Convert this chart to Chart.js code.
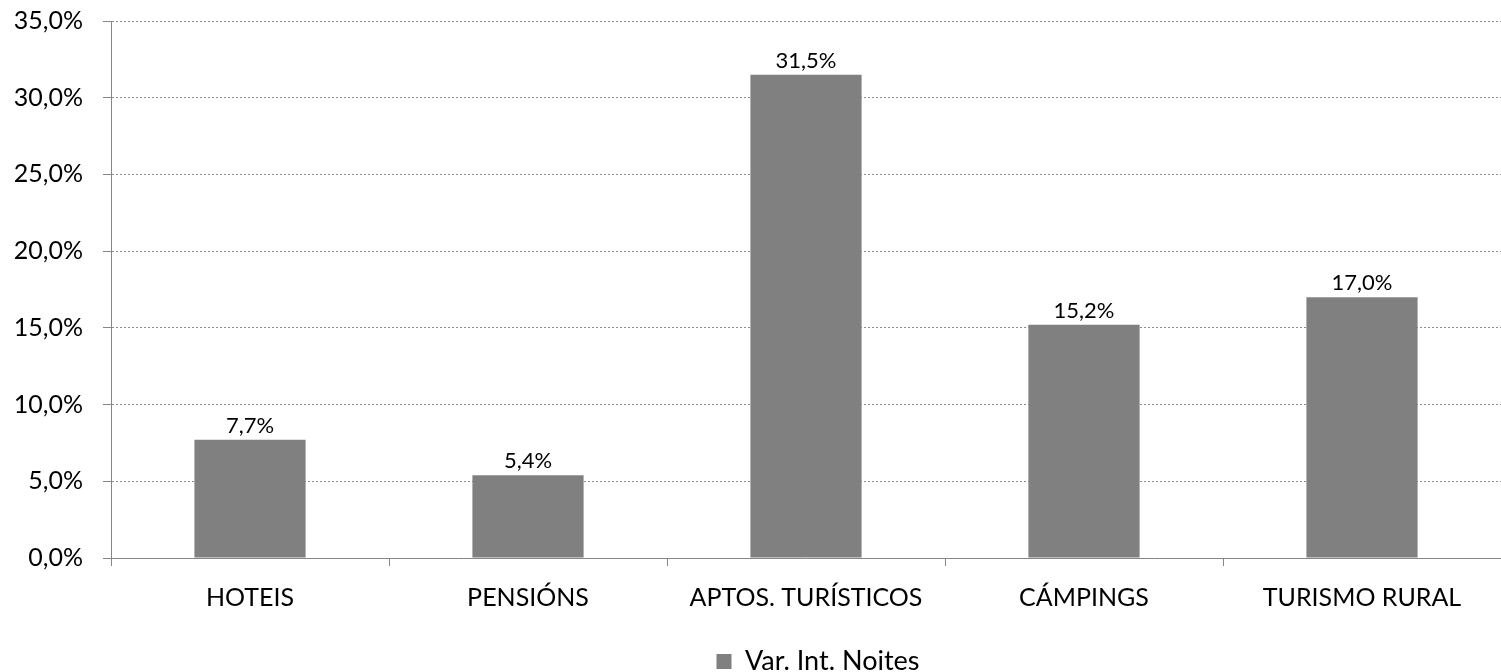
<!DOCTYPE html>
<html>
<head>
<meta charset="utf-8">
<script src="https://cdn.jsdelivr.net/npm/chart.js@4/dist/chart.umd.min.js"></script>
<style>
  html, body { margin: 0; padding: 0; background: #fff; }
  #wrap { width: 1501px; height: 672px; }
</style>
</head>
<body>
<div id="wrap"><canvas id="nightsChart"></canvas></div>
<script>
/* Var. Int. Noites por tipo de aloxamento */
const categories = ['HOTEIS', 'PENSIÓNS', 'APTOS. TURÍSTICOS', 'CÁMPINGS', 'TURISMO RURAL'];
const seriesName = 'Var. Int. Noites';
const values = [7.7, 5.4, 31.5, 15.2, 17.0];
const yTicks = [0, 5, 10, 15, 20, 25, 30, 35];

const fmtPct = v => v.toFixed(1).replace('.', ',') + '%';

Chart.defaults.font.family = "'Lato', 'Open Sans', sans-serif";
Chart.defaults.color = '#000000';

/* value labels above each bar */
const barLabels = {
    id: 'barLabels',
    afterDatasetsDraw(chart) {
        const ctx = chart.ctx;
        const meta = chart.getDatasetMeta(0);
        ctx.save();
        ctx.font = "22px 'Lato', 'Open Sans', sans-serif";
        ctx.fillStyle = '#000000';
        ctx.textAlign = 'center';
        ctx.textBaseline = 'bottom';
        meta.data.forEach((bar, i) => {
            ctx.fillText(fmtPct(values[i]), bar.x, bar.y - 3);
        });
        ctx.restore();
    }
};

/* legend sits a bit right of centre, under the plot area */
const legendShift = {
    id: 'legendShift',
    afterLayout(chart) {
        const lg = chart.legend;
        if (!lg) return;
        const dx = (chart.chartArea.left + chart.chartArea.right) / 2 - chart.width / 2 + 12;
        lg.left += dx;
        lg.right += dx;
        if (lg.legendHitBoxes) lg.legendHitBoxes.forEach(b => { b.left += dx; });
    }
};

const ctx = document.getElementById('nightsChart').getContext('2d');

new Chart(ctx, {
    type: 'bar',
    data: {
        labels: categories,
        datasets: [{
            label: seriesName,
            data: values,
            backgroundColor: '#808080',
            borderWidth: 0,
            categoryPercentage: 1.0,
            barPercentage: 0.4
        }]
    },
    options: {
        responsive: true,
        maintainAspectRatio: false,
        animation: false,
        layout: { padding: { top: 21, right: 0, left: 0, bottom: -13 } },
        plugins: {
            legend: {
                position: 'bottom',
                labels: {
                    boxWidth: 15,
                    boxHeight: 15,
                    padding: 4,
                    font: { size: 27 },
                    color: '#000000'
                }
            },
            tooltip: { enabled: false }
        },
        scales: {
            y: {
                min: 0,
                max: 35,
                afterBuildTicks: scale => { scale.ticks = yTicks.map(v => ({ value: v })); },
                afterFit: scale => {
                    scale.width = 111;
                    scale.paddingTop = 0;
                    scale.paddingBottom = 0;
                },
                ticks: {
                    padding: 20,
                    font: { size: 25 },
                    color: '#000000',
                    callback: v => fmtPct(v)
                },
                grid: {
                    color: '#8c8c8c',
                    tickLength: 8,
                    tickColor: '#868686'
                },
                border: { color: '#868686', dash: [2, 2] }
            },
            x: {
                afterFit: scale => { scale.height = 86; },
                ticks: {
                    padding: 17,
                    font: { size: 25 },
                    color: '#000000'
                },
                grid: {
                    offset: true,
                    drawOnChartArea: false,
                    tickLength: 8,
                    color: '#868686'
                },
                border: { color: '#868686' }
            }
        }
    },
    plugins: [barLabels, legendShift]
});
</script>
</body>
</html>
